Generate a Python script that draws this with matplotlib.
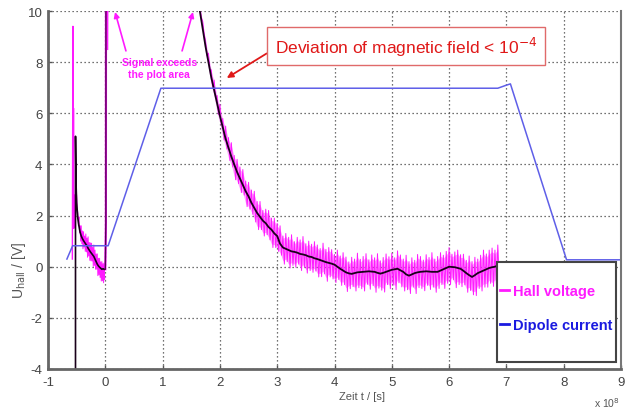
import numpy as np
import matplotlib
matplotlib.use("Agg")
import matplotlib.pyplot as plt
from matplotlib.lines import Line2D
from matplotlib.patches import Rectangle

plt.rcParams["axes.unicode_minus"] = False

# ---------------- data ----------------
# Dipole current (blue)
dip_t = [-0.67, -0.57, 0.05, 0.97, 6.85, 7.0, 7.07, 8.05, 9.0]
dip_v = [0.30, 0.82, 0.82, 6.98, 6.98, 7.10, 7.15, 0.27, 0.27]

# Hall voltage, smoothed (black), pre-trigger segment
pre_t = [-0.50, -0.48, -0.46, -0.44, -0.42, -0.40, -0.38, -0.36, -0.34, -0.32,
         -0.30, -0.28, -0.26, -0.24, -0.22, -0.20, -0.18, -0.16, -0.14, -0.12,
         -0.10, -0.08, -0.06, -0.04, -0.02]
pre_mean = [2.5, 1.9, 1.6, 1.35, 1.2, 1.1, 1.02, 0.95, 0.88, 0.82,
            0.72, 0.65, 0.58, 0.52, 0.46, 0.40, 0.30, 0.20, 0.10, 0.03,
            -0.02, -0.06, -0.10, -0.08, -0.10]
pre_up = [0.3, 0.2, 0.35, 0.25, 0.4, 0.3, 0.35, 0.25, 0.4, 0.3, 0.45, 0.3, 0.35,
          0.4, 0.3, 0.45, 0.35, 0.3, 0.4, 0.3, 0.35, 0.25, 0.3, 0.2, 0.25]
pre_down = [0.2, 0.3, 0.25, 0.35, 0.3, 0.4, 0.25, 0.35, 0.3, 0.45, 0.3, 0.4, 0.35,
            0.3, 0.45, 0.35, 0.4, 0.3, 0.45, 0.35, 0.4, 0.5, 0.45, 0.55, 0.4]

# Hall voltage spikes around the trigger (start, peaks, off-scale jumps)
spike_t = [-0.575, -0.565, -0.56, -0.555, -0.55, -0.53]
spike_v = [0.3, 9.4, 2.0, 6.2, 1.5, 2.8]
trig_t = [-0.52, -0.52, -0.51]
trig_v = [-4.5, 5.1, 3.2]
jump_t = [0.0, 0.01, 0.012]
jump_v = [-0.1, 1.75, 12.0]
jump2_t = [0.04, 0.045]
jump2_v = [8.5, 12.0]

# Hall voltage main decay segment
main_t = [1.65, 1.70, 1.75, 1.80, 1.85, 1.90, 1.95, 2.00, 2.05, 2.10,
          2.15, 2.20, 2.25, 2.30, 2.35, 2.40, 2.45, 2.50, 2.55, 2.60,
          2.65, 2.70, 2.75, 2.80, 2.85, 2.90, 2.95, 3.00, 3.05, 3.10,
          3.15, 3.20, 3.25, 3.30, 3.35, 3.40, 3.45, 3.50, 3.55, 3.60,
          3.65, 3.70, 3.75, 3.80, 3.85, 3.90, 3.95, 4.00, 4.05, 4.10,
          4.15, 4.20, 4.25, 4.30, 4.35, 4.40, 4.45, 4.50, 4.55, 4.60,
          4.65, 4.70, 4.75, 4.80, 4.85, 4.90, 4.95, 5.00, 5.05, 5.10,
          5.15, 5.20, 5.25, 5.30, 5.35, 5.40, 5.45, 5.50, 5.55, 5.60,
          5.65, 5.70, 5.75, 5.80, 5.85, 5.90, 5.95, 6.00, 6.05, 6.10,
          6.15, 6.20, 6.25, 6.30, 6.35, 6.40, 6.45, 6.50, 6.55, 6.60,
          6.65, 6.70, 6.75, 6.80, 6.85]
main_mean = [10.0, 9.3, 8.6, 8.0, 7.4, 6.9, 6.4, 5.9, 5.45, 5.0,
             4.65, 4.3, 4.0, 3.7, 3.45, 3.2, 2.95, 2.75, 2.5, 2.3,
             2.1, 1.95, 1.8, 1.7, 1.55, 1.45, 1.3, 1.2, 0.9, 0.75,
             0.7, 0.65, 0.6, 0.58, 0.55, 0.5, 0.48, 0.45, 0.4, 0.38,
             0.33, 0.3, 0.26, 0.22, 0.18, 0.15, 0.12, 0.08, 0.0, -0.08,
             -0.15, -0.22, -0.26, -0.28, -0.25, -0.22, -0.21, -0.2, -0.19, -0.18,
             -0.19, -0.2, -0.24, -0.27, -0.24, -0.2, -0.16, -0.12, -0.1, -0.08,
             -0.14, -0.2, -0.3, -0.35, -0.3, -0.25, -0.22, -0.2, -0.19, -0.18,
             -0.19, -0.2, -0.2, -0.2, -0.15, -0.1, -0.05, 0.0, -0.01, -0.02,
             -0.05, -0.08, -0.16, -0.25, -0.33, -0.4, -0.33, -0.25, -0.2, -0.15,
             -0.1, -0.05, -0.02, 0.0, 0.05]
main_up = [0.2, 0.3, 0.25, 0.35, 0.3, 0.4, 0.3, 0.45, 0.35, 0.5,
           0.4, 0.55, 0.35, 0.5, 0.45, 0.6, 0.4, 0.55, 0.5, 0.65,
           0.45, 0.6, 0.4, 0.55, 0.65, 0.45, 0.6, 0.5, 0.7, 0.45,
           0.6, 0.5, 0.65, 0.4, 0.6, 0.55, 0.7, 0.45, 0.6, 0.5,
           0.65, 0.55, 0.45, 0.7, 0.5, 0.6, 0.55, 0.4, 0.65, 0.5,
           0.7, 0.6, 0.45, 0.65, 0.55, 0.75, 0.5, 0.6, 0.7, 0.45,
           0.65, 0.55, 0.75, 0.5, 0.6, 0.7, 0.55, 0.65, 0.45, 0.7,
           0.6, 0.5, 0.75, 0.55, 0.65, 0.5, 0.7, 0.6, 0.45, 0.65,
           0.55, 0.75, 0.5, 0.6, 0.7, 0.55, 0.65, 0.75, 0.5, 0.6,
           0.7, 0.55, 0.65, 0.5, 0.75, 0.6, 0.7, 0.55, 0.65, 0.8,
           0.6, 0.7, 0.75, 0.65, 0.8]
main_down = [0.25, 0.2, 0.35, 0.3, 0.4, 0.3, 0.45, 0.35, 0.5, 0.4,
             0.5, 0.4, 0.6, 0.45, 0.55, 0.4, 0.6, 0.5, 0.45, 0.55,
             0.65, 0.5, 0.6, 0.45, 0.5, 0.7, 0.55, 0.6, 0.45, 0.65,
             0.5, 0.7, 0.55, 0.6, 0.45, 0.65, 0.5, 0.7, 0.55, 0.6,
             0.5, 0.7, 0.65, 0.5, 0.75, 0.55, 0.6, 0.7, 0.5, 0.65,
             0.55, 0.75, 0.6, 0.5, 0.7, 0.6, 0.65, 0.75, 0.5, 0.7,
             0.55, 0.8, 0.6, 0.65, 0.75, 0.5, 0.7, 0.6, 0.8, 0.55,
             0.65, 0.75, 0.6, 0.7, 0.5, 0.8, 0.6, 0.65, 0.75, 0.55,
             0.7, 0.6, 0.8, 0.65, 0.55, 0.75, 0.6, 0.7, 0.5, 0.8,
             0.65, 0.7, 0.55, 0.75, 0.6, 0.7, 0.8, 0.6, 0.75, 0.65,
             0.7, 0.6, 0.75, 0.65, 0.6]

x_ticks = [-1, 0, 1, 2, 3, 4, 5, 6, 7, 8, 9]
y_ticks = [-4, -2, 0, 2, 4, 6, 8, 10]

# ---------------- styles ----------------
MAG = "#ff1aff"
BLUE = "#5f5fe8"
BLK = "#1a001a"
GRAY = "#555555"
SANS = ["Liberation Sans", "DejaVu Sans"]


def zigzag(t, mean, up, down, half):
    zt, zv = [], []
    for ti, m, u, d in zip(t, mean, up, down):
        zt += [ti, ti + half]
        zv += [m + u, m - d]
    return zt, zv


fig = plt.figure(figsize=(6.27, 4.10), dpi=100)
ax = fig.add_axes([48 / 627, 40 / 410, 573 / 627, 358 / 410])

# magenta raw signal
pz_t, pz_v = zigzag(pre_t, pre_mean, pre_up, pre_down, 0.01)
mz_t, mz_v = zigzag(main_t, main_mean, main_up, main_down, 0.025)
ax.fill_between(main_t, np.array(main_mean) - np.array(main_down) * 0.8,
                np.array(main_mean) + np.array(main_up) * 0.8,
                color=MAG, alpha=0.4, lw=0)
ax.plot(mz_t, mz_v, color=MAG, lw=0.7)
ax.plot(pz_t, pz_v, color=MAG, lw=0.7)
ax.plot(spike_t, spike_v, color=MAG, lw=1.0)
ax.plot(jump_t, jump_v, color=MAG, lw=1.6)
ax.plot(jump2_t, jump2_v, color=MAG, lw=1.0)

# smoothed (black)
ax.plot(trig_t + pre_t, trig_v + pre_mean, color=BLK, lw=1.2)
ax.plot(jump_t, jump_v, color="#550055", lw=1.0)
ax.plot(main_t, main_mean, color=BLK, lw=1.3)

# dipole current
ax.plot(dip_t, dip_v, color=BLUE, lw=1.1)

ax.set_xlim(-1, 9)
ax.set_ylim(-4, 10)
ax.set_xticks(x_ticks)
ax.set_yticks(y_ticks)
ax.grid(True, color="#444444", linestyle=(0, (1, 2.2)), linewidth=0.9)
ax.set_axisbelow(True)
ax.tick_params(direction="in", length=3, colors=GRAY, labelsize=9.5,
               width=1.0)
for lab in ax.get_xticklabels() + ax.get_yticklabels():
    lab.set_family(SANS)
    lab.set_color("#444444")
ax.tick_params(axis="x", pad=5)
ax.tick_params(axis="y", pad=4)

ax.spines["top"].set_visible(False)
ax.spines["left"].set_color("#666666")
ax.spines["left"].set_linewidth(2.0)
ax.spines["bottom"].set_color("#666666")
ax.spines["bottom"].set_linewidth(2.0)
ax.spines["right"].set_color("#777777")
ax.spines["right"].set_linewidth(1.5)

ax.set_xlabel("Zeit t / [s]", family=SANS, fontsize=8, color="#555555")
ax.xaxis.set_label_coords(0.548, -0.075)
ax.xaxis.label.set_va("center")
ax.set_ylabel(r"U$_{\rm hall}$ / [V]", family=SANS, fontsize=10,
              color="#555555")
ax.yaxis.set_label_coords(-0.035, 0.28)
fig.text(607 / 627, 1 - 403 / 410, r"x 10$^{8}$", family=SANS, fontsize=7.5,
         color="#555555", ha="center", va="center")

# annotations
ax.annotate("Deviation of magnetic field < 10$^{-4}$", xy=(2.12, 7.38),
            xytext=(5.25, 8.63), ha="center", va="center",
            fontsize=12.5, color="#e01818", family=SANS,
            bbox=dict(boxstyle="square,pad=0.45", fc="white", ec="#e06a6a",
                      lw=1.0),
            arrowprops=dict(arrowstyle="-|>", color="#e01818", lw=1.3,
                            mutation_scale=9, shrinkA=0, shrinkB=0,
                            relpos=(0.0, 0.4)))
ax.text(0.94, 7.77, "Signal exceeds\nthe plot area", ha="center", va="center",
        fontsize=7.5, color=MAG, fontweight="bold", family=SANS,
        linespacing=1.15)
for x0, y0, x1, y1 in [(0.36, 8.44, 0.17, 9.96), (1.34, 8.44, 1.53, 9.96)]:
    ax.annotate("", xy=(x1, y1), xytext=(x0, y0),
                arrowprops=dict(arrowstyle="-|>", color=MAG, lw=1.2,
                                mutation_scale=8, shrinkA=0, shrinkB=0))

# legend (frame drawn as a box of the reference's size)
leg_box = (0.784, 0.02, 0.207, 0.279)
ax.add_patch(Rectangle(leg_box[:2], leg_box[2], leg_box[3],
                       transform=ax.transAxes, fc="white", ec="#444444",
                       lw=1.5, zorder=5))
handles = [Line2D([], [], color=MAG, lw=2.0), Line2D([], [], color="#1a1ae0", lw=2.0)]
leg = ax.legend(handles, ["Hall voltage", "Dipole current"], loc="center",
                bbox_to_anchor=(0.784, 0.03, 0.207, 0.279), borderaxespad=0,
                handlelength=0.6, handletextpad=0.3, handleheight=0.7,
                labelspacing=1.35, borderpad=0.2, frameon=False,
                prop=dict(family=SANS, weight="bold", size=10.5))
leg.set_zorder(6)
leg.texts[0].set_color(MAG)
leg.texts[1].set_color("#1a1ae0")

fig.savefig("out.png", dpi=100)
